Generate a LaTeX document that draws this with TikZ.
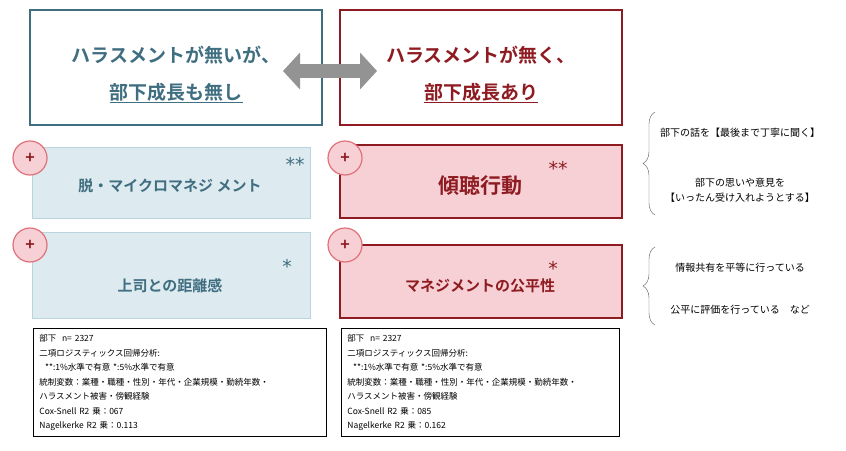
\documentclass[tikz,border=0pt]{standalone}
\usepackage{fontspec}
\setmainfont{Noto Sans CJK JP}
\newfontfamily\jpbold{Noto Sans CJK JP Bold}
\newfontfamily\starfont{DejaVu Sans}
\usetikzlibrary{arrows.meta,decorations.pathreplacing}
\definecolor{teal}{HTML}{3F6E80}
\definecolor{darkred}{HTML}{8E1B21}
\definecolor{paleblue}{HTML}{DDEAF0}
\definecolor{paleblueline}{HTML}{B9D3DF}
\definecolor{palepink}{HTML}{F6D0D4}
\definecolor{pinkline}{HTML}{E0707A}
\tikzset{
  topbox/.style={draw, line width=2.5pt, fill=white},
  factor/.style={fill=paleblue, draw=paleblueline, line width=1pt},
  keyfactor/.style={fill=palepink, draw=darkred, line width=2.5pt},
  plus/.style={circle, fill=palepink, draw=pinkline, line width=1.2pt, minimum size=34pt, inner sep=0pt, text=darkred, font=\jpbold\fontsize{16}{16}\selectfont},
  note/.style={draw, line width=0.8pt, align=left, anchor=north west, font=\fontsize{8.5}{14.5}\selectfont, inner sep=6pt},
  star/.style={font=\starfont\fontsize{19}{19}\selectfont},
  side/.style={font=\fontsize{10}{15}\selectfont, align=center}
}
\begin{document}
\begin{tikzpicture}[x=1pt, y=-1pt]
\useasboundingbox (0,0) rectangle (846,450);
% top comparison
\draw[topbox, draw=teal] (30,10) rectangle (322,125);
\draw[topbox, draw=darkred] (340,10) rectangle (622,125);
\node[text=teal, font=\jpbold\fontsize{19}{19}\selectfont] (t1) at (176,55) {ハラスメントが無いが、};
\node[text=teal, font=\jpbold\fontsize{19}{19}\selectfont] (t2) at (176,93) {\underline{部下成長も無し}};
\node[text=darkred, font=\jpbold\fontsize{19}{19}\selectfont] (t3) at (481,55) {ハラスメントが無く、};
\node[text=darkred, font=\jpbold\fontsize{19}{19}\selectfont] (t4) at (481,93) {\underline{部下成長あり}};
\coordinate (al) at (283,71);
\coordinate (ar) at (377,71);
\draw[line width=14pt, draw=gray!85, {Triangle[length=17pt,width=36pt]}-{Triangle[length=17pt,width=36pt]}] (al) -- (ar);
% factors
\draw[factor] (32,147) rectangle (310,218);
\draw[factor] (32,232) rectangle (310,318);
\draw[keyfactor] (340,145) rectangle (622,218);
\draw[keyfactor, line width=1.5pt] (340,245) rectangle (622,318);
\node[text=teal, font=\jpbold\fontsize{15}{15}\selectfont] (f1) at (170,186) {脱・マイクロマネジ メント};
\node[text=teal, font=\jpbold\fontsize{15}{15}\selectfont] (f2) at (170,286) {上司との距離感};
\node[text=darkred, font=\jpbold\fontsize{21}{21}\selectfont] (f3) at (480,186) {傾聴行動};
\node[text=darkred, font=\jpbold\fontsize{15}{15}\selectfont] (f4) at (480,286) {マネジメントの公平性};
\node[star, text=teal] (s1) at (295,164) {**};
\node[star, text=teal] (s2) at (287,266) {*};
\node[star, text=darkred] (s3) at (558,168) {**};
\node[star, text=darkred] (s4) at (553,268) {*};
\foreach \px/\py/\nm in {30/158/p1, 345/158/p2, 30/245/p3, 345/245/p4}
  \node[plus] (\nm) at (\px,\py) {+};
% notes
\node[note, text width=281pt] (n1) at (33,328) {部下\ \ n= 2327\\二項ロジスティックス回帰分析:\\\ \ **:1\%水準で有意 *:5\%水準で有意\\統制変数：業種・職種・性別・年代・企業規模・勤続年数・\\ハラスメント被害・傍観経験\\Cox-Snell R2 乗：067\\Nagelkerke R2 乗：0.113};
\node[note, text width=266pt] (n2) at (341,328) {部下\ \ n= 2327\\二項ロジスティックス回帰分析:\\\ \ **:1\%水準で有意 *:5\%水準で有意\\統制変数：業種・職種・性別・年代・企業規模・勤続年数・\\ハラスメント被害・傍観経験\\Cox-Snell R2 乗：085\\Nagelkerke R2 乗：0.162};
% braces
\coordinate (b1t) at (655,112);
\coordinate (b1b) at (655,215);
\coordinate (b2t) at (655,247);
\coordinate (b2b) at (655,325);
\draw[gray!70!black, decorate, decoration={brace, amplitude=12pt}] (b1b) -- (b1t);
\draw[gray!70!black, decorate, decoration={brace, amplitude=12pt}] (b2b) -- (b2t);
\node[side] (r1) at (740,133) {部下の話を【最後まで丁寧に聞く】};
\node[side] (r2) at (740,190) {部下の思いや意見を\\【いったん受け入れようとする】};
\node[side] (r3) at (740,268) {情報共有を平等に行っている};
\node[side] (r4) at (740,310) {公平に評価を行っている\quad など};
\end{tikzpicture}
\end{document}
